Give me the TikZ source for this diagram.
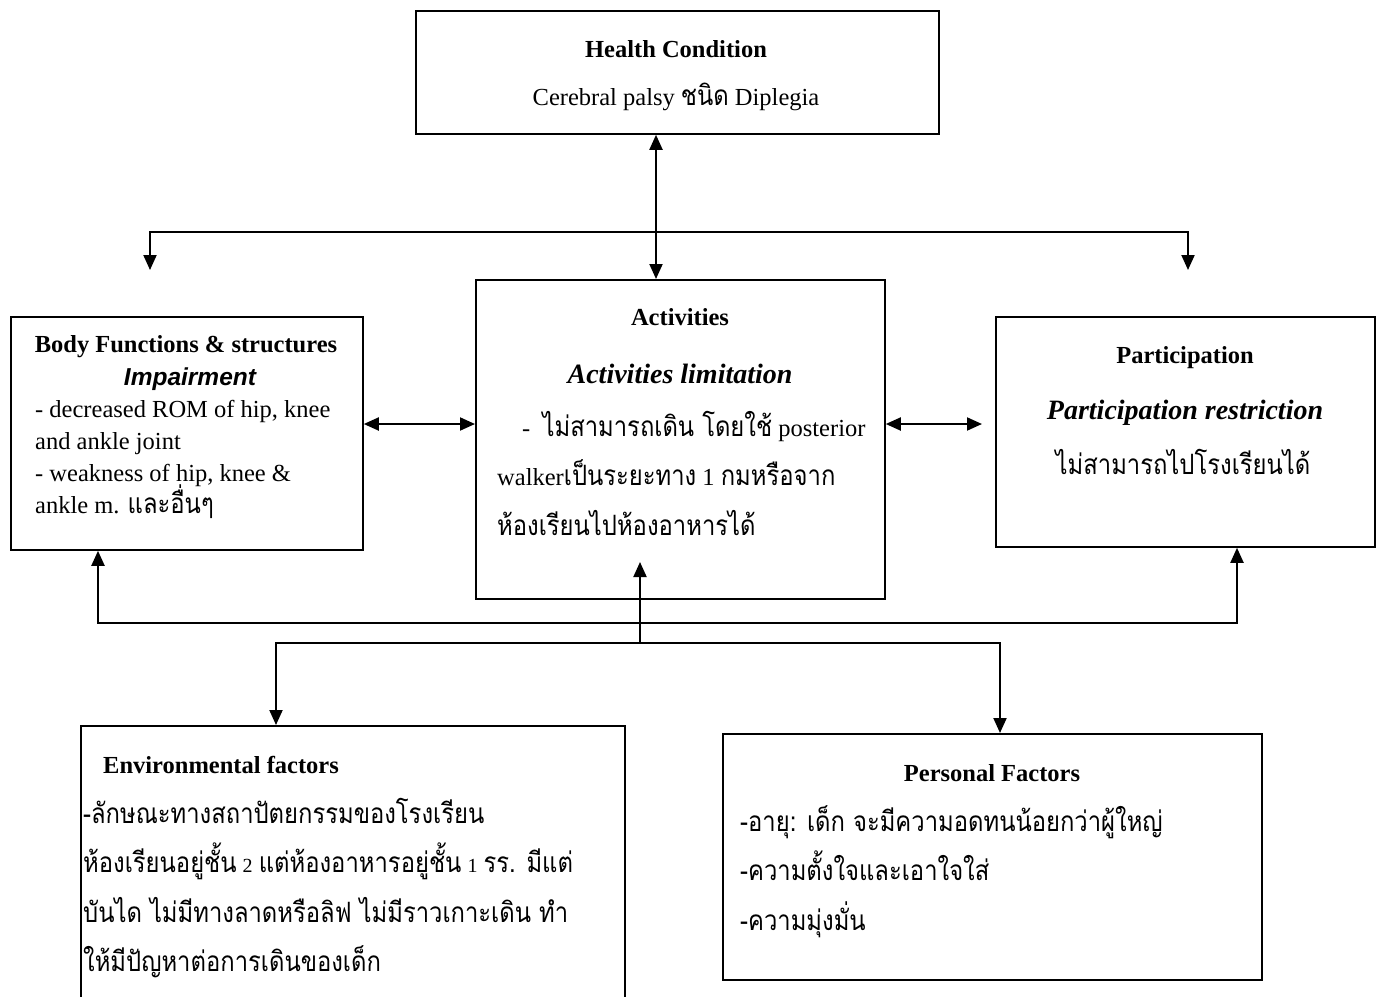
\documentclass[tikz,border=0pt]{standalone}
\usepackage{fontspec}
\setmainfont{Liberation Serif}
\newfontfamily\thai[Script=Thai,FakeStretch=0.85]{Loma}
\newfontfamily\sansf{Liberation Sans}
\usetikzlibrary{arrows.meta}
\newcommand\fHead{\fontsize{24.5}{29}\selectfont\bfseries}
\newcommand\fBody{\fontsize{24.5}{29}\selectfont}
\newcommand\fBI{\fontsize{28}{33}\selectfont\bfseries\itshape}
\newcommand\fTh{\fontsize{24.5}{29}\selectfont}
\newcommand\tht[1]{{\fontsize{28}{32}\selectfont\thai #1}}
\tikzset{
  box/.style={draw, line width=1.8pt, inner sep=0pt, anchor=north west},
  ctr/.style={anchor=base, inner sep=0pt},
  lft/.style={anchor=base west, inner sep=0pt},
  tip/.tip={Triangle[length=15pt,width=13pt]},
  arr/.style={line width=2pt, -tip},
  darr/.style={line width=2pt, tip-tip},
}
\begin{document}
\begin{tikzpicture}[x=1pt,y=-1pt]
\useasboundingbox (0,0) rectangle (1381,996);
% boxes
\node[box, minimum width=523pt, minimum height=123pt] (hc) at (415,10) {};
\node[box, minimum width=352pt, minimum height=233pt] (bf) at (10,316) {};
\node[box, minimum width=409pt, minimum height=319pt] (act) at (475,279) {};
\node[box, minimum width=379pt, minimum height=230pt] (pa) at (995,316) {};
\node[box, minimum width=544pt, minimum height=290pt] (env) at (80,725) {};
\node[box, minimum width=539pt, minimum height=246pt] (pf) at (722,733) {};
% health condition
\node[ctr, font=\fHead] (hc1) at (676,57) {Health Condition};
\node[ctr, font=\fBody] (hc2) at (676,105) {Cerebral palsy \tht{ชนิด} Diplegia};
% body functions
\node[ctr, font=\fHead] (bf1) at (186,352) {Body Functions \& structures};
\node[ctr, font=\fontsize{24.5}{29}\selectfont\sansf\bfseries\itshape] (bf2) at (190,385) {Impairment};
\node[lft, font=\fBody] (bf3) at (35,417) {- decreased ROM of hip, knee};
\node[lft, font=\fBody] (bf4) at (35,449) {and ankle joint};
\node[lft, font=\fBody] (bf5) at (35,481) {- weakness of hip, knee \&};
\node[lft, font=\fBody] (bf6) at (35,513) {ankle m. \tht{และอื่นๆ}};
% activities
\node[ctr, font=\fHead] (ac1) at (680,325) {Activities};
\node[ctr, font=\fBI] (ac2) at (680,383) {Activities limitation};
\node[lft, font=\fTh] (ac3) at (522,436) {-\ \ \tht{ไม่สามารถเดิน โดยใช้} posterior};
\node[lft, font=\fTh] (ac4) at (497,485) {walker\tht{เป็นระยะทาง} 1 \tht{กมหรือจาก}};
\node[lft, font=\fTh] (ac5) at (497,535) {\tht{ห้องเรียนไปห้องอาหารได้}};
% participation
\node[ctr, font=\fBI] (pa2) at (1185,419) {Participation restriction};
\node[ctr, font=\fHead] (pa1) at (1185,363) {Participation};
\node[ctr, font=\fTh] (pa3) at (1183,474) {\tht{ไม่สามารถไปโรงเรียนได้}};
% environmental
\node[lft, font=\fHead] (en1) at (103,773) {Environmental factors};
\node[lft, font=\fTh] (en2) at (83,823) {\tht{-ลักษณะทางสถาปัตยกรรมของโรงเรียน}};
\node[lft, font=\fTh] (en3) at (83,872) {\tht{ห้องเรียนอยู่ชั้น} {\fontsize{20}{24}\selectfont 2} \tht{แต่ห้องอาหารอยู่ชั้น} {\fontsize{20}{24}\selectfont 1} \tht{รร. มีแต่}};
\node[lft, font=\fTh] (en4) at (83,922) {\tht{บันได ไม่มีทางลาดหรือลิฟ ไม่มีราวเกาะเดิน ทำ}};
\node[lft, font=\fTh] (en5) at (83,971) {\tht{ให้มีปัญหาต่อการเดินของเด็ก}};
% personal
\node[ctr, font=\fHead] (pf1) at (992,781) {Personal Factors};
\node[lft, font=\fTh] (pf2) at (740,831) {\tht{-อายุ: เด็ก จะมีความอดทนน้อยกว่าผู้ใหญ่}};
\node[lft, font=\fTh] (pf3) at (740,880) {\tht{-ความตั้งใจและเอาใจใส่}};
\node[lft, font=\fTh] (pf4) at (740,930) {\tht{-ความมุ่งมั่น}};
% connectors
\coordinate (vx) at (656,0);
\draw[darr] (hc.south -| vx) -- (act.north -| vx);
\coordinate (tl) at (150,270);
\coordinate (tb) at (1188,232);
\coordinate (tr) at (1188,270);
\draw[darr] (tl) |- (tb) -- (tr);
\coordinate (ly) at (0,424);
\draw[darr] (bf.east |- ly) -- (act.west |- ly);
\coordinate (pr) at (982,424);
\draw[darr] (act.east |- ly) -- (pr);
\coordinate (bl) at (98,0);
\coordinate (bb) at (1237,623);
\draw[darr] (bf.south -| bl) |- (bb) -- (pa.south -| bb);
\coordinate (ub) at (640,643);
\coordinate (ut) at (640,562);
\draw[arr] (ub) -- (ut);
\coordinate (el) at (276,0);
\coordinate (lb) at (1000,643);
\draw[darr] (env.north -| el) |- (lb) -- (pf.north -| lb);
\end{tikzpicture}
\end{document}
